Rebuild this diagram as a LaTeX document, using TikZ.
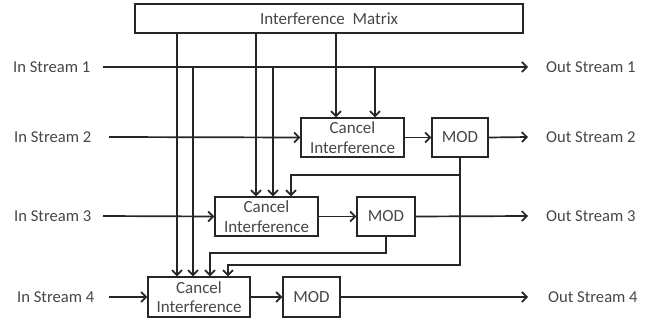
\documentclass[tikz,border=0pt]{standalone}
\usepackage{fontspec}
\setmainfont{Carlito}
\usetikzlibrary{arrows.meta}
\definecolor{ln}{HTML}{262626}
\definecolor{tx}{HTML}{474747}
\tikzset{
  box/.style={draw=ln, line width=1.4pt, fill=white, align=center, inner sep=0pt, text=tx, font=\fontsize{17}{19.5}\selectfont},
  lbl/.style={anchor=west, text=tx, inner sep=0pt, font=\fontsize{16.6}{19}\selectfont},
  wire/.style={draw=ln, line width=1.7pt},
  arr/.style={wire, -{Straight Barb[length=5pt,width=10pt,line width=1.7pt]}}
}
\begin{document}
\begin{tikzpicture}[x=1pt,y=-1pt]
\useasboundingbox[fill=white] (0,0) rectangle (658,320);
% boxes
\node[box, minimum width=388pt, minimum height=29pt] (IM) at (329,18.5) {Interference~ Matrix};
\node[box, minimum width=103pt, minimum height=39pt] (CI2) at (352.5,137.5) {Cancel\\Interference};
\node[box, minimum width=56pt, minimum height=39pt] (MOD2) at (460,137.5) {MOD};
\node[box, minimum width=103pt, minimum height=39pt] (CI3) at (266.5,216.5) {Cancel\\Interference};
\node[box, minimum width=58pt, minimum height=39pt] (MOD3) at (386,216.5) {MOD};
\node[box, minimum width=102pt, minimum height=40pt] (CI4) at (199,297) {Cancel\\Interference};
\node[box, minimum width=57pt, minimum height=40pt] (MOD4) at (311.5,297) {MOD};
% labels
\node[lbl] (in1) at (13,67) {In Stream 1};
\node[lbl] (in2) at (14,137) {In Stream 2};
\node[lbl] (in3) at (14,216) {In Stream 3};
\node[lbl] (in4) at (17,297) {In Stream 4};
\node[lbl] (out1) at (546,67) {Out Stream 1};
\node[lbl] (out2) at (546,137) {Out Stream 2};
\node[lbl] (out3) at (546,216) {Out Stream 3};
\node[lbl] (out4) at (548,297) {Out Stream 4};
% wire end coordinates
\coordinate (s1a) at (103,67);
\coordinate (s1b) at (528,67);
\coordinate (s2a) at (109,137);
\coordinate (s2b) at (528,137);
\coordinate (s3a) at (103,216);
\coordinate (s3b) at (528,216);
\coordinate (s4a) at (109,297);
\coordinate (s4b) at (528,297);
\coordinate (m1) at (177,0);
\coordinate (t1) at (193,0);
\coordinate (m2) at (256,0);
\coordinate (t2) at (273,0);
\coordinate (m3) at (336,0);
\coordinate (t3) at (375,0);
\coordinate (fa) at (291,175);
\coordinate (fb) at (228,265);
\coordinate (fc) at (210,253);
% matrix and stream-1 taps
\draw[arr] (IM.south -| m1) -- (CI4.north -| m1);
\draw[arr] (s1a -| t1) -- (CI4.north -| t1);
\draw[arr] (IM.south -| m2) -- (CI3.north -| m2);
\draw[arr] (s1a -| t2) -- (CI3.north -| t2);
\draw[arr] (IM.south -| m3) -- (CI2.north -| m3);
\draw[arr] (s1a -| t3) -- (CI2.north -| t3);
% streams
\draw[arr] (s1a) -- (s1b);
\draw[arr] (s2a) -- (CI2.west);
\draw[arr] (CI2) -- (MOD2);
\draw[arr] (MOD2.east) -- (s2b);
\draw[arr] (s3a) -- (CI3.west);
\draw[arr] (CI3) -- (MOD3);
\draw[arr] (MOD3.east) -- (s3b);
\draw[arr] (s4a) -- (CI4.west);
\draw[arr] (CI4) -- (MOD4);
\draw[arr] (MOD4.east) -- (s4b);
% feedback
\draw[arr] (MOD2.south) |- (fa) -- (CI3.north -| fa);
\draw[arr] (MOD2.south) |- (fb) -- (CI4.north -| fb);
\draw[arr] (MOD3.south) |- (fc) -- (CI4.north -| fc);
\end{tikzpicture}
\end{document}
